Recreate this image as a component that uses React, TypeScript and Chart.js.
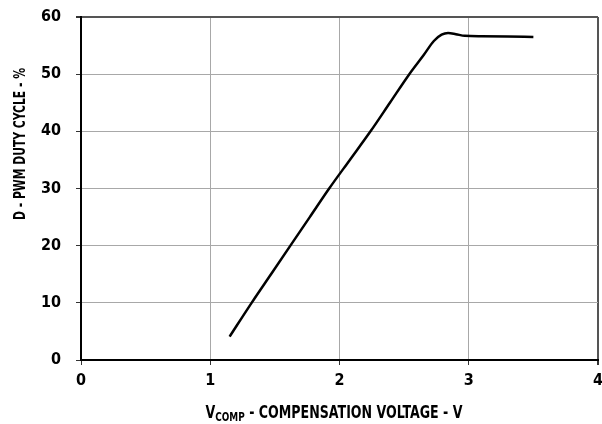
import React, { useEffect, useRef } from 'react';
import { Chart, registerables } from 'chart.js';

Chart.register(...registerables);

const compVoltage = [1.15, 1.32, 1.47, 1.62, 1.77, 1.92, 2.08, 2.24, 2.39, 2.54, 2.65, 2.73, 2.79, 2.84, 2.9, 2.97, 3.1, 3.3, 3.5];
const dutyCycle = [4.1, 10, 15, 20, 25, 30, 35, 40, 45, 50, 53.3, 55.8, 56.9, 57.2, 57.0, 56.7, 56.65, 56.6, 56.5];
const xTickValues = [0, 1, 2, 3, 4];
const yTickValues = [0, 10, 20, 30, 40, 50, 60];
const yTitleText = 'D - PWM DUTY CYCLE - %';
const xTitleMain = 'V';
const xTitleSub = 'COMP';
const xTitleRest = ' - COMPENSATION VOLTAGE - V';

const FONT = '"DejaVu Sans Condensed", "Liberation Sans Narrow", sans-serif';

const titlePlugin = {
  id: 'customTitles',
  afterDraw(chart: any) {
    const ctx = chart.ctx as CanvasRenderingContext2D;
    ctx.save();
    ctx.fillStyle = '#000';
    ctx.textBaseline = 'alphabetic';
    ctx.textAlign = 'left';
    // x title with subscript, horizontally condensed to match
    const mainFont = `bold 17px ${FONT}`;
    const subFont = `bold 12px ${FONT}`;
    ctx.font = mainFont;
    const wMain = ctx.measureText(xTitleMain).width;
    const wRest = ctx.measureText(xTitleRest).width;
    ctx.font = subFont;
    const wSub = ctx.measureText(xTitleSub).width;
    const total = wMain + wSub + wRest;
    const targetW = 257;
    const sx = targetW / total;
    ctx.save();
    ctx.translate(334 - targetW / 2, 418);
    ctx.scale(sx, 1);
    let x = 0;
    ctx.font = mainFont;
    ctx.fillText(xTitleMain, x, 0);
    x += wMain;
    ctx.font = subFont;
    ctx.fillText(xTitleSub, x, 3);
    x += wSub;
    ctx.font = mainFont;
    ctx.fillText(xTitleRest, x, 0);
    ctx.restore();
    // y title rotated and condensed
    ctx.save();
    ctx.font = `bold 16px ${FONT}`;
    const wy = ctx.measureText(yTitleText).width;
    const targetY = 152;
    ctx.translate(24.5, 144);
    ctx.rotate(-Math.PI / 2);
    ctx.scale(targetY / wy, 1);
    ctx.textAlign = 'center';
    ctx.fillText(yTitleText, 0, 0);
    ctx.restore();
    ctx.restore();
  },
};

export default function App() {
  const ref = useRef<HTMLCanvasElement | null>(null);
  useEffect(() => {
    if (!ref.current) return;
    const points = compVoltage.map((v, i) => ({ x: v, y: dutyCycle[i] }));
    const chart = new Chart(ref.current, {
      type: 'scatter',
      data: {
        datasets: [
          {
            data: points,
            showLine: true,
            borderColor: '#000',
            borderWidth: 2.5,
            pointRadius: 0,
            cubicInterpolationMode: 'monotone',
            fill: false,
          } as any,
        ],
      },
      options: {
        responsive: false,
        animation: false,
        devicePixelRatio: 1,
        layout: { padding: { top: 17, right: 4, left: 0, bottom: 0 } },
        plugins: { legend: { display: false }, tooltip: { enabled: false }, title: { display: false } },
        scales: {
          x: {
            type: 'linear',
            min: 0,
            max: 4,
            afterFit: (s: any) => {
              s.height = 64;
              s.paddingLeft = 0;
              s.paddingRight = 0;
            },
            afterBuildTicks: (s: any) => { s.ticks = xTickValues.map((v) => ({ value: v })); },
            ticks: {
              color: '#000',
              font: { family: FONT, size: 16, weight: 'bold' },
              padding: 6,
              maxRotation: 0,
            },
            grid: {
              color: (c: any) => (c.tick && c.tick.value === 4 ? '#555' : '#a8a8a8'),
              lineWidth: (c: any) => (c.tick && c.tick.value === 4 ? 2 : 1),
              tickColor: '#333',
              tickLength: 5,
            },
            border: { color: '#000', width: 2 },
          },
          y: {
            type: 'linear',
            min: 0,
            max: 60,
            afterFit: (s: any) => {
              s.width = 81;
              s.paddingTop = 0;
              s.paddingBottom = 0;
            },
            afterBuildTicks: (s: any) => { s.ticks = yTickValues.map((v) => ({ value: v })); },
            ticks: {
              color: '#000',
              font: { family: FONT, size: 16, weight: 'bold' },
              padding: 15,
            },
            grid: {
              color: (c: any) => (c.tick && c.tick.value === 60 ? '#555' : '#a8a8a8'),
              lineWidth: (c: any) => (c.tick && c.tick.value === 60 ? 2 : 1),
              tickColor: '#333',
              tickLength: 5,
            },
            border: { color: '#000', width: 2 },
          },
        },
      },
      plugins: [titlePlugin],
    });
    return () => chart.destroy();
  }, []);
  return (
    <div style={{ position: 'fixed', left: 0, top: 0, width: 602, height: 424, background: '#fff' }}>
      <canvas ref={ref} width={602} height={424} style={{ width: 602, height: 424, display: 'block' }} />
    </div>
  );
}
